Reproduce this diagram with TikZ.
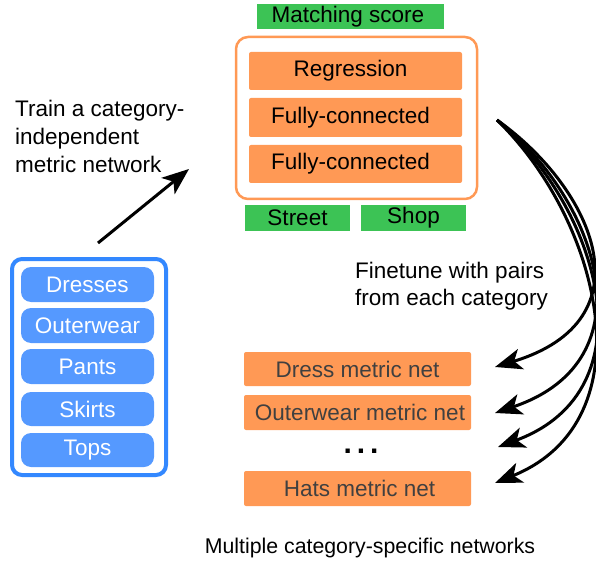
\documentclass[tikz,border=0pt]{standalone}
\usepackage{fontspec}
\setmainfont{Liberation Sans}
\usetikzlibrary{arrows.meta,positioning,calc}
\definecolor{orfill}{RGB}{255,153,85}
\definecolor{grfill}{RGB}{60,195,85}
\definecolor{blfill}{RGB}{85,153,255}
\definecolor{blline}{RGB}{51,136,255}
\definecolor{netgray}{RGB}{64,64,64}
\tikzset{
  txt/.style={font=\fontsize{22.5}{28}\selectfont},
  orbox/.style={txt,fill=orfill,rounded corners=2pt,inner sep=0pt},
  grbox/.style={txt,fill=grfill,inner sep=0pt},
  blbox/.style={txt,fill=blfill,text=white,rounded corners=10pt,inner sep=0pt},
  netbox/.style={txt,fill=orfill,text=netgray,rounded corners=2pt,inner sep=0pt},
  bigarrow/.style={line width=3pt,-{Stealth[length=27pt,width=21pt,inset=7pt]}},
}
\begin{document}
\begin{tikzpicture}[x=1pt,y=-1pt]
\useasboundingbox (0,0) rectangle (596,561);
% top network
\node[grbox,minimum width=187pt,minimum height=25pt] (score) at (350.5,17) {Matching score\hspace*{5pt}};
\draw[orfill,line width=2.5pt,rounded corners=12pt] (236,37) rectangle (477,199);
\node[orbox,minimum width=213pt,minimum height=38pt] (reg) at (355.5,71) {Regression\hspace*{10pt}};
\node[orbox,minimum width=213pt,minimum height=39pt] (fc1) at (355.5,117.5) {Fully-connected\hspace*{10pt}};
\node[orbox,minimum width=213pt,minimum height=38pt] (fc2) at (355.5,164) {Fully-connected\hspace*{10pt}};
\node[grbox,minimum width=105pt,minimum height=26pt] (street) at (297.5,218) {Street};
\node[grbox,minimum width=105pt,minimum height=26pt] (shop) at (413.5,218) {Shop};
% left categories
\draw[blline,line width=4pt,rounded corners=10pt] (12,259) rectangle (166,475);
\node[blbox,minimum width=133pt,minimum height=35pt] (dresses) at (87.5,284.5) {Dresses};
\node[blbox,minimum width=133pt,minimum height=35pt] (outer) at (87.5,325.5) {Outerwear};
\node[blbox,minimum width=133pt,minimum height=35pt] (pants) at (87.5,366.5) {Pants};
\node[blbox,minimum width=133pt,minimum height=34pt] (skirts) at (87.5,409) {Skirts};
\node[blbox,minimum width=133pt,minimum height=34pt] (tops) at (87.5,450) {Tops};
% texts
\node[txt,anchor=base west,inner sep=0pt] (t1) at (15,117) {Train a category-};
\node[txt,anchor=base west,inner sep=0pt] (t2) at (15,145) {independent};
\node[txt,anchor=base west,inner sep=0pt] (t3) at (15,173) {metric network};
\node[txt,anchor=base west,inner sep=0pt] (f1) at (355,278) {Finetune with pairs};
\node[txt,anchor=base west,inner sep=0pt] (f2) at (355,305) {from each category};
\node[font=\fontsize{21.3}{28}\selectfont,anchor=base,inner sep=0pt] (multi) at (370,553) {Multiple category-specific networks};
% metric nets
\node[netbox,minimum width=227pt,minimum height=34pt] (dress) at (357.5,369) {Dress metric net};
\node[netbox,minimum width=227pt,minimum height=35pt] (outnet) at (357.5,412.5) {\hspace*{5pt}Outerwear metric net};
\node[font=\fontsize{30}{30}\selectfont\bfseries,anchor=base,inner sep=0pt] (dots) at (361,453) {.\,.\,.};
\node[netbox,minimum width=227pt,minimum height=35pt] (hats) at (357.5,488.5) {\hspace*{4pt}Hats metric net};
% arrows
\coordinate (a0) at (98,243);
\coordinate (a1) at (189,169);
\draw[bigarrow] (a0) -- (a1);
\coordinate (s) at (497,120);
\coordinate (e1) at (495,367);
\coordinate (e2) at (495,413);
\coordinate (e3) at (498,447);
\coordinate (e4) at (495,483);
\draw[bigarrow] (s) .. controls (595,190) and (650,320) .. (e1);
\draw[bigarrow] (s) .. controls (598,200) and (652,360) .. (e2);
\draw[bigarrow] (s) .. controls (600,210) and (652,390) .. (e3);
\draw[bigarrow] (s) .. controls (600,220) and (650,420) .. (e4);
\end{tikzpicture}
\end{document}
